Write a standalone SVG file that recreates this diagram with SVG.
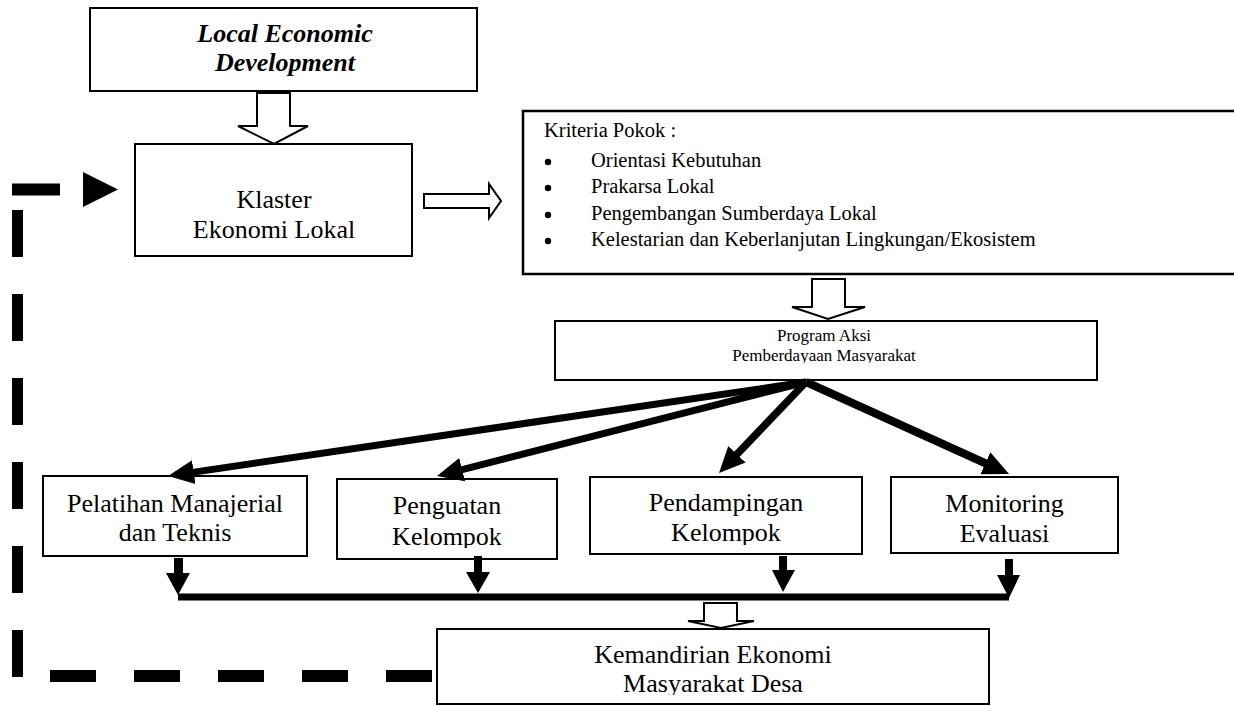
<svg xmlns="http://www.w3.org/2000/svg" width="1234" height="706" viewBox="0 0 1234 706">
<style>
.box{fill:#fff;stroke:#000;stroke-width:2}
.t{font-family:"Liberation Serif","Times New Roman",serif;font-size:26px;fill:#000;text-anchor:middle}
.s{font-family:"Liberation Serif","Times New Roman",serif;font-size:20.5px;fill:#000}
.p{font-family:"Liberation Serif","Times New Roman",serif;font-size:17px;fill:#000;text-anchor:middle}
.hollow{fill:#fff;stroke:#000;stroke-width:2;stroke-linejoin:miter}
.thick{stroke:#000;fill:none}
</style>
<defs>
<marker id="ah" markerUnits="userSpaceOnUse" markerWidth="26" markerHeight="26" viewBox="0 0 26 26" refX="3" refY="13" orient="auto">
<path d="M0,1 L26,13 L0,25 z" fill="#000"/>
</marker>
<clipPath id="cPen"><rect x="300" y="470" width="300" height="78"/></clipPath>
<clipPath id="cPend"><rect x="590" y="470" width="280" height="75"/></clipPath>
<clipPath id="cProg"><rect x="555" y="321" width="542" height="42"/></clipPath>
<clipPath id="cKem"><rect x="437" y="629" width="552" height="66"/></clipPath>
</defs>

<g id="led">
<rect class="box" x="90" y="8" width="387" height="83"/>
<text class="t" x="285" y="42" font-weight="bold" font-style="italic">Local Economic</text>
<text class="t" x="285" y="71" font-weight="bold" font-style="italic">Development</text>
</g>

<g id="klaster">
<rect class="box" x="135" y="144" width="277" height="112"/>
<text class="t" x="274" y="208">Klaster</text>
<text class="t" x="274" y="238">Ekonomi Lokal</text>
</g>

<g id="kriteria">
<rect x="523" y="111" width="720" height="163" fill="#fff" stroke="#000" stroke-width="2.5"/>
<text class="s" x="544" y="137">Kriteria Pokok :</text>
<circle cx="548" cy="162" r="3.2"/>
<circle cx="548" cy="188" r="3.2"/>
<circle cx="548" cy="215" r="3.2"/>
<circle cx="548" cy="241" r="3.2"/>
<text class="s" x="591" y="167">Orientasi Kebutuhan</text>
<text class="s" x="591" y="193">Prakarsa Lokal</text>
<text class="s" x="591" y="220">Pengembangan Sumberdaya Lokal</text>
<text class="s" x="591" y="246">Kelestarian dan Keberlanjutan Lingkungan/Ekosistem</text>
</g>

<g id="program">
<rect class="box" x="555" y="321" width="542" height="59"/>
<text class="p" x="824" y="341">Program Aksi</text>
<text class="p" x="824" y="361" clip-path="url(#cProg)">Pemberdayaan Masyarakat</text>
</g>

<g id="pelatihan">
<rect class="box" x="43" y="476" width="264" height="80"/>
<text class="t" x="175" y="512">Pelatihan Manajerial</text>
<text class="t" x="175" y="541">dan Teknis</text>
</g>

<g id="penguatan">
<rect class="box" x="337" y="479" width="220" height="80"/>
<text class="t" x="447" y="514">Penguatan</text>
<text class="t" x="447" y="545" clip-path="url(#cPen)">Kelompok</text>
</g>

<g id="pendampingan">
<rect class="box" x="590" y="477" width="272" height="77"/>
<text class="t" x="726" y="511">Pendampingan</text>
<text class="t" x="726" y="541" clip-path="url(#cPend)">Kelompok</text>
</g>

<g id="monitoring">
<rect class="box" x="891" y="477" width="227" height="76"/>
<text class="t" x="1004.5" y="512">Monitoring</text>
<text class="t" x="1004.5" y="542">Evaluasi</text>
</g>

<g id="kemandirian">
<rect class="box" x="437" y="629" width="552" height="75"/>
<text class="t" x="713" y="663">Kemandirian Ekonomi</text>
<text class="t" x="713" y="692" clip-path="url(#cKem)">Masyarakat Desa</text>
</g>

<g id="connectors">
<path class="hollow" d="M257,93 L290,93 L290,126 L308,126 L274,144 L238,126 L257,126 Z"/>
<path class="hollow" d="M424,194 L489,194 L489,184 L501,201 L489,218 L489,208 L424,208 Z"/>
<path class="hollow" d="M812,279 L845,279 L845,307 L865,307 L828,319 L792,307 L812,307 Z"/>
<path class="hollow" d="M704,603 L737,603 L737,621 L754,621 L721,628 L688,621 L704,621 Z"/>

<line class="thick" x1="806" y1="382" x2="190.8" y2="472.6" stroke-width="7" marker-end="url(#ah)"/>
<line class="thick" x1="806" y1="382" x2="459.3" y2="470.3" stroke-width="7" marker-end="url(#ah)"/>
<line class="thick" x1="806" y1="382" x2="734.9" y2="456.4" stroke-width="7.5" marker-end="url(#ah)"/>
<line class="thick" x1="806" y1="382" x2="988.1" y2="464.5" stroke-width="8" marker-end="url(#ah)"/>

<path d="M174,558 L183,558 L183,573 L190,573 L178,595 L166,573 L174,573 Z"/>
<path d="M474,556 L482,556 L482,572 L490,572 L478,593 L466,572 L474,572 Z"/>
<path d="M779,556 L787,556 L787,570 L795,570 L783,592 L772,570 L779,570 Z"/>
<path d="M1005,559 L1013,559 L1013,575 L1020,575 L1009,598 L997,575 L1005,575 Z"/>
<line class="thick" x1="178" y1="597" x2="1009" y2="597" stroke-width="7"/>

<line class="thick" x1="432" y1="676" x2="48" y2="676" stroke-width="12" stroke-dasharray="46 38"/>
<line class="thick" x1="17.5" y1="210" x2="17.5" y2="678" stroke-width="11" stroke-dasharray="47 37"/>
<rect x="12" y="183.5" width="48" height="12"/>
<path d="M83,172 L118,189.5 L83,207 Z"/>
</g>
</svg>
